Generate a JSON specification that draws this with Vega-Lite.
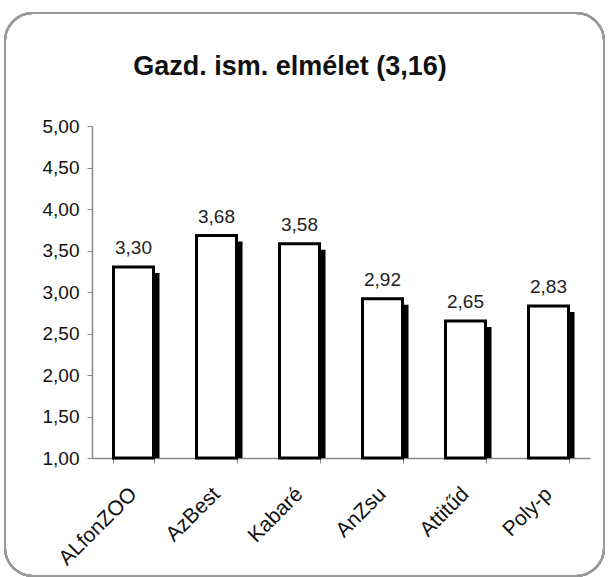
{
  "$schema": "https://vega.github.io/schema/vega-lite/v6.json",
  "width": 498,
  "height": 332,
  "autosize": {"type": "none"},
  "padding": {"left": 92, "top": 126, "right": 18, "bottom": 119},
  "background": "white",
  "config": {
    "locale": {"number": {"decimal": ",", "thousands": " ", "grouping": [3], "currency": ["", ""]}},
    "font": "Liberation Sans",
    "view": {"stroke": null}
  },
  "title": {
    "text": "Gazd. ism. elmélet (3,16)",
    "font": "Liberation Sans",
    "fontSize": 27,
    "fontWeight": "bold",
    "color": "#111",
    "anchor": "middle",
    "frame": "group",
    "dx": -51,
    "offset": -69
  },
  "data": {
    "values": [
      {"group": "ALfonZOO", "value": 3.30},
      {"group": "AzBest", "value": 3.68},
      {"group": "Kabaré", "value": 3.58},
      {"group": "AnZsu", "value": 2.92},
      {"group": "Attitűd", "value": 2.65},
      {"group": "Poly-p", "value": 2.83}
    ]
  },
  "encoding": {
    "x": {
      "field": "group",
      "type": "nominal",
      "sort": null,
      "scale": {"paddingInner": 0.5, "paddingOuter": 0.25},
      "axis": {
        "title": null,
        "labelAngle": -45,
        "labelFontSize": 21,
        "labelColor": "#111",
        "labelPadding": 20,
        "labelOffset": -8,
        "tickBand": "extent",
        "tickSize": 5,
        "tickColor": "#888",
        "domainColor": "#888",
        "domainWidth": 1.5
      }
    },
    "y": {
      "field": "value",
      "type": "quantitative",
      "scale": {"domain": [1, 5], "zero": false, "nice": false},
      "axis": {
        "title": null,
        "values": [1, 1.5, 2, 2.5, 3, 3.5, 4, 4.5, 5],
        "format": ".2f",
        "grid": false,
        "labelFontSize": 19,
        "labelColor": "#111",
        "labelPadding": 8,
        "tickSize": 5,
        "tickColor": "#888",
        "domainColor": "#888",
        "domainWidth": 1.5
      }
    }
  },
  "layer": [
    {
      "mark": {"type": "rect", "fill": null, "stroke": "#999", "strokeWidth": 2, "cornerRadius": 28},
      "encoding": {
        "x": {"value": -87},
        "x2": {"value": 512},
        "y": {"value": -113},
        "y2": {"value": 450}
      }
    },
    {
      "mark": {"type": "bar", "color": "black", "size": 40, "xOffset": 6, "yOffset": 6, "clip": true},
      "encoding": {"y2": {"datum": 1}}
    },
    {
      "mark": {"type": "bar", "fill": "white", "stroke": "black", "strokeWidth": 3, "size": 40},
      "encoding": {"y2": {"datum": 1}}
    },
    {
      "mark": {"type": "text", "fontSize": 19, "color": "#222", "baseline": "alphabetic", "dy": -13},
      "encoding": {"text": {"field": "value", "type": "quantitative", "format": ".2f"}}
    }
  ]
}
